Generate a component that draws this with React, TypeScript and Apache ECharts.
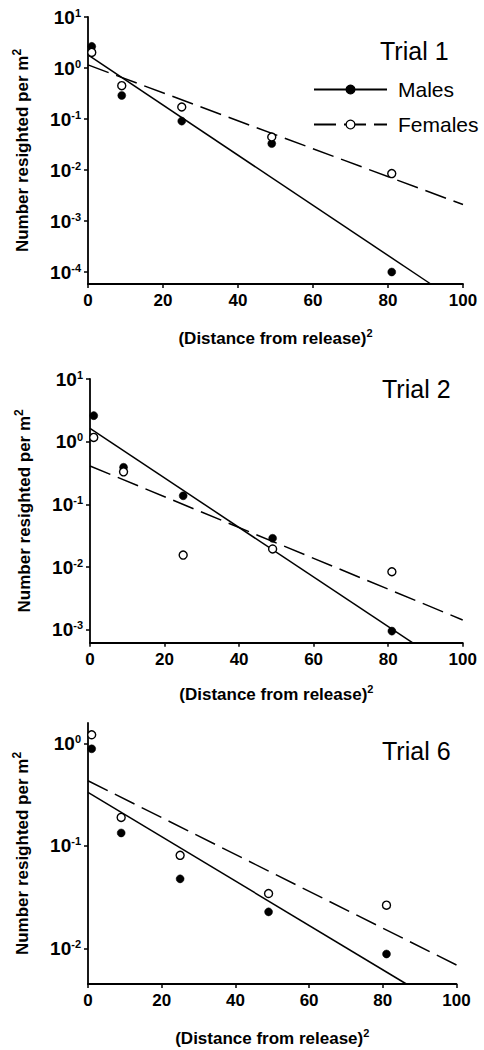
import React, { useEffect, useRef } from "react";
import * as echarts from "echarts";

// ---------- data ----------
const distanceSq = [1, 9, 25, 49, 81];
const xTickLabels = [0, 20, 40, 60, 80, 100];

const trial1Males = [2.65, 0.29, 0.091, 0.033, 0.0001];
const trial1Females = [2.02, 0.45, 0.172, 0.0444, 0.0085];
const trial1MaleFit = [[0, 1.8], [91.4, 5.82e-5]];
const trial1FemaleFit = [[0, 1.15], [100, 0.0021]];

const trial2Males = [2.6, 0.39, 0.137, 0.0287, 0.00095];
const trial2Females = [1.17, 0.33, 0.0155, 0.0194, 0.0084];
const trial2MaleFit = [[0, 1.63], [86.5, 6.2e-4]];
const trial2FemaleFit = [[0, 0.41], [100, 0.00143]];

const trial6Males = [0.89, 0.134, 0.0477, 0.0227, 0.0088];
const trial6Females = [1.22, 0.19, 0.081, 0.0343, 0.0264];
const trial6MaleFit = [[0, 0.334], [86.4, 0.00448]];
const trial6FemaleFit = [[0, 0.434], [100, 0.00687]];

const yTicks1 = [10, 1, 0.1, 0.01, 0.001, 0.0001];
const yTicks2 = [10, 1, 0.1, 0.01, 0.001];
const yTicks6 = [1, 0.1, 0.01];

const yRange1 = [5.82e-5, 10];
const yRange2 = [6.2e-4, 10];
const yRange6 = [0.00448, 1.59];

const trialNames = ["Trial 1", "Trial 2", "Trial 6"];
const legendNames = ["Males", "Females"];

// ---------- styling / layout ----------
const FONT = "'Liberation Sans', Arial, Helvetica, sans-serif";
const grids = [
  { left: 88, top: 17, width: 375, height: 267 },
  { left: 90, top: 379, width: 372.7, height: 263.7 },
  { left: 88, top: 723, width: 368.5, height: 261 },
];
const xNameGaps = [43, 41, 43];
const trialPos = [
  { left: 380, top: 38 },
  { left: 382, top: 376 },
  { left: 382, top: 738 },
];

const panels = [
  { males: trial1Males, females: trial1Females, maleFit: trial1MaleFit, femaleFit: trial1FemaleFit, ticks: yTicks1, range: yRange1 },
  { males: trial2Males, females: trial2Females, maleFit: trial2MaleFit, femaleFit: trial2FemaleFit, ticks: yTicks2, range: yRange2 },
  { males: trial6Males, females: trial6Females, maleFit: trial6MaleFit, femaleFit: trial6FemaleFit, ticks: yTicks6, range: yRange6 },
];

function buildOption() {
  const xAxis: any[] = [];
  const yAxis: any[] = [];
  const series: any[] = [];
  const graphic: any[] = [];

  panels.forEach((p, i) => {
    xAxis.push({
      type: "value",
      gridIndex: i,
      min: 0,
      max: 100,
      interval: 20,
      axisLine: { show: true, onZero: false, lineStyle: { color: "#000", width: 1.8 } },
      axisTick: { show: true, length: 4, lineStyle: { color: "#000", width: 1.5 } },
      axisLabel: {
        show: true,
        margin: 8,
        color: "#000",
        fontSize: 17,
        fontWeight: "bold",
        fontFamily: FONT,
        formatter: (v: number) => (xTickLabels.includes(v) ? String(v) : ""),
      },
      splitLine: { show: false },
      name: "{a|(Distance from release)}{s|2}",
      nameLocation: "middle",
      nameGap: xNameGaps[i],
      nameTextStyle: {
        rich: {
          a: { fontSize: 17, fontWeight: "bold", fontFamily: FONT, color: "#000", lineHeight: 22 },
          s: { fontSize: 11, fontWeight: "bold", fontFamily: FONT, color: "#000", lineHeight: 22, verticalAlign: "top" },
        },
      },
    });
    yAxis.push({
      type: "log",
      logBase: 10,
      gridIndex: i,
      min: p.range[0],
      max: p.range[1],
      axisLine: { show: true, onZero: false, lineStyle: { color: "#000", width: 1.8 } },
      axisTick: { show: true, length: 4, customValues: p.ticks, lineStyle: { color: "#000", width: 1.5 } },
      axisLabel: {
        show: true,
        margin: 7,
        customValues: p.ticks,
        formatter: (v: number) => {
          const e = Math.round(Math.log10(v));
          return `{b|10}{s|${e}}`;
        },
        rich: {
          b: { fontSize: 19, fontWeight: "bold", fontFamily: FONT, color: "#000", lineHeight: 20 },
          s: { fontSize: 11, fontWeight: "bold", fontFamily: FONT, color: "#000", lineHeight: 20, verticalAlign: "top" },
        },
      },
      splitLine: { show: false },
      name: "{a|Number resighted per m}{s|2}",
      nameLocation: "middle",
      nameRotate: 90,
      nameGap: 55,
      nameTextStyle: {
        rich: {
          a: { fontSize: 17, fontWeight: "bold", fontFamily: FONT, color: "#000", lineHeight: 22 },
          s: { fontSize: 12, fontWeight: "bold", fontFamily: FONT, color: "#000", lineHeight: 22, verticalAlign: "top" },
        },
      },
    });

    const suffix = i === 0 ? "" : ` ${i + 1}`;
    series.push({
      name: "Males" + suffix,
      type: "line",
      xAxisIndex: i,
      yAxisIndex: i,
      data: p.maleFit,
      symbol: "circle",
      symbolSize: 8,
      showSymbol: false,
      itemStyle: { color: "#000", borderColor: "#000", borderWidth: 1.2 },
      lineStyle: { color: "#000", width: 1.5, type: "solid" },
      z: 2,
    });
    series.push({
      name: "Females" + suffix,
      type: "line",
      xAxisIndex: i,
      yAxisIndex: i,
      data: p.femaleFit,
      symbol: "circle",
      symbolSize: 8,
      showSymbol: false,
      itemStyle: { color: "#fff", borderColor: "#000", borderWidth: 1.2 },
      lineStyle: { color: "#000", width: 1.5, type: [22, 8] },
      z: 2,
    });
    series.push({
      name: "Males points" + suffix,
      type: "scatter",
      xAxisIndex: i,
      yAxisIndex: i,
      data: distanceSq.map((d, k) => [d, p.males[k]]),
      symbol: "circle",
      symbolSize: 8,
      itemStyle: { color: "#000", borderColor: "#000", borderWidth: 0.5, opacity: 1 },
      z: 4,
    });
    series.push({
      name: "Females points" + suffix,
      type: "scatter",
      xAxisIndex: i,
      yAxisIndex: i,
      data: distanceSq.map((d, k) => [d, p.females[k]]),
      symbol: "circle",
      symbolSize: 8,
      itemStyle: { color: "#fff", borderColor: "#000", borderWidth: 1.4, opacity: 1 },
      z: 5,
    });

    graphic.push({
      type: "text",
      left: trialPos[i].left,
      top: trialPos[i].top,
      style: { text: trialNames[i], fontSize: 25, fontFamily: FONT, fill: "#000" },
    });
  });

  return {
    animation: false,
    backgroundColor: "#fff",
    grid: grids.map((g) => ({ ...g, containLabel: false })),
    xAxis,
    yAxis,
    series,
    graphic,
    legend: {
      data: legendNames,
      orient: "vertical",
      left: 308,
      top: 74,
      itemWidth: 73,
      itemHeight: 11,
      itemGap: 14,
      selectedMode: false,
      textStyle: { fontSize: 21, fontFamily: FONT, color: "#000", padding: [0, 0, 0, 6] },
      itemStyle: { borderWidth: 1.3 },
      lineStyle: { width: 2 },
    },
    tooltip: { show: false },
  };
}

export default function App() {
  const ref = useRef<HTMLDivElement>(null);
  useEffect(() => {
    if (!ref.current) return;
    const chart = echarts.init(ref.current, null, { renderer: "svg" });
    chart.setOption(buildOption() as any);
    return () => chart.dispose();
  }, []);
  return (
    <div
      ref={ref}
      style={{ position: "absolute", left: 0, top: 0, width: 484, height: 1050, background: "#fff" }}
    />
  );
}
